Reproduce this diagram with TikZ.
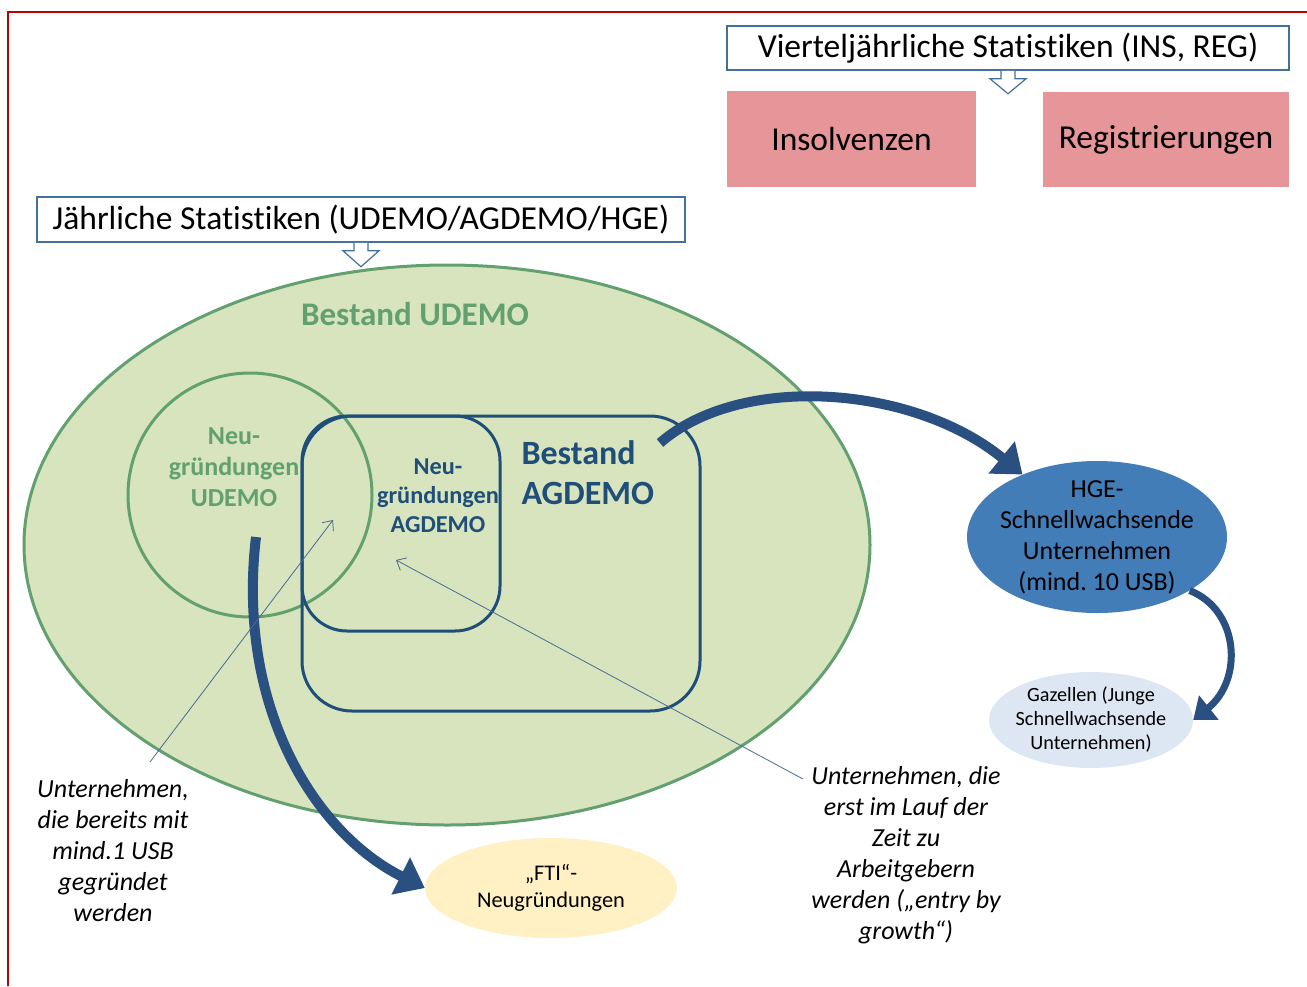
\documentclass[tikz,border=0pt]{standalone}
\usepackage{fontspec}
\setmainfont{Carlito}[Ligatures={NoCommon,NoContextual}, Contextuals=NoAlternate]
\usepackage{xcolor}
\definecolor{framered}{RGB}{192, 0, 0}
\definecolor{boxblue}{RGB}{65, 113, 156}
\definecolor{pinkred}{RGB}{230, 149, 152}
\definecolor{udfill}{RGB}{216, 228, 189}
\definecolor{udgreen}{RGB}{98, 160, 112}
\definecolor{agblue}{RGB}{31, 78, 121}
\definecolor{arrowblue}{RGB}{42, 80, 130}
\definecolor{hgeblue}{RGB}{66, 125, 184}
\definecolor{gazfill}{RGB}{221, 231, 243}
\definecolor{ftifill}{RGB}{255, 241, 196}
\usetikzlibrary{shapes.geometric,arrows.meta,positioning,calc}
\frenchspacing

\begin{document}
\begin{tikzpicture}[x=1pt, y=-1pt,
    statbox/.style={draw=boxblue, line width=1.5pt, fill=white, inner sep=0pt, font=\fontsize{33.5}{38}\selectfont},
    pinkbox/.style={fill=pinkred, inner sep=0pt, font=\fontsize{33.5}{38}\selectfont},
    hollowarrow/.style={draw=boxblue, line width=1.2pt, fill=white},
    bigarrow/.style={draw=arrowblue, line width=10pt, -{Triangle[width=40pt,length=27pt]}},
    thinarrow/.style={draw=arrowblue!85, line width=0.8pt, -{Straight Barb[length=8pt,width=14pt]}}]
    \useasboundingbox (0,0) rectangle (1307,986);

    % Frame
    \draw[framered, line width=2pt] (8,986) -- (8,12) -- (1307,12);

    % Quarterly statistics
    \node[statbox, minimum width=562, minimum height=44] (vjstat) at (1008,48) {Vierteljährliche Statistiken (INS, REG)};
    \node[pinkbox, minimum width=249, minimum height=96] (insolv) at (851.5,139) {Insolvenzen};
    \node[pinkbox, minimum width=246, minimum height=95] (regist) at (1166,139.5) {Registrierungen};
    \draw[hollowarrow] ($(vjstat.south)+(-7,0)$) -- ++(0,8) -- ++(-11,0) -- ($(vjstat.south)+(0,23)$) -- ($(vjstat.south)+(18,8)$) -- ++(-11,0) -- ++(0,-8);

    % Annual statistics
    \node[statbox, minimum width=648, minimum height=45] (jstat) at (361,219.5) {Jährliche Statistiken (UDEMO/AGDEMO/HGE)};
    \draw[hollowarrow] ($(jstat.south)+(-7,0)$) -- ++(0,8) -- ++(-11,0) -- ($(jstat.south)+(0,24)$) -- ($(jstat.south)+(18,8)$) -- ++(-11,0) -- ++(0,-8);

    % Stock of enterprises
    \node[ellipse, draw=udgreen, fill=udfill, line width=3pt, minimum width=846, minimum height=560, inner sep=0pt] (udemo) at (447,545) {};
    \node[font=\bfseries\fontsize{33}{38}\selectfont, text=udgreen] (udlabel) at (415,314) {Bestand UDEMO};
    \node[circle, draw=udgreen, line width=3pt, minimum size=244, inner sep=0pt] (neuud) at (250,495) {};
    \node[font=\bfseries\fontsize{26}{31}\selectfont, text=udgreen, align=center] (neudlabel) at (234,467) {Neu-\\gründungen\\UDEMO};
    \node[rectangle, rounded corners=50pt, draw=agblue, line width=3pt, minimum width=398, minimum height=295, inner sep=0pt] (agdemo) at (501,563.5) {};
    \node[rectangle, rounded corners=45pt, draw=agblue, line width=3pt, minimum width=198, minimum height=215, inner sep=0pt] (neuag) at (401,523.5) {};
    \node[font=\bfseries\fontsize{34}{40}\selectfont, text=agblue, align=left, anchor=west] (aglabel) at (518,473) {Bestand\\AGDEMO};
    \node[font=\bfseries\fontsize{24.3}{29}\selectfont, text=agblue, align=center] (neuaglabel) at (438,496) {Neu-\\gründungen\\AGDEMO};

    % Outer ellipses
    \node[ellipse, fill=hgeblue, minimum width=260, minimum height=152, inner sep=-6pt, align=center, font=\fontsize{26}{31}\selectfont] (hge) at (1097,537) {HGE-\\Schnellwachsende\\Unternehmen\\(mind. 10 USB)};
    \node[ellipse, fill=gazfill, minimum width=204, minimum height=96, inner sep=-4pt, align=center, font=\fontsize{20.2}{24}\selectfont] (gaz) at (1091,720) {Gazellen (Junge\\Schnellwachsende\\Unternehmen)};
    \node[ellipse, fill=ftifill, minimum width=252, minimum height=100, inner sep=0pt, align=center, font=\fontsize{22.4}{27}\selectfont] (fti) at (551,888) {„FTI“-\\Neugründungen};

    % Notes
    \node[font=\itshape\fontsize{26}{31}\selectfont, align=center] (txtusb) at (113,851) {Unternehmen,\\die bereits mit\\mind.1 USB\\gegründet\\werden};
    \node[font=\itshape\fontsize{26}{31}\selectfont, align=center] (txtgrowth) at (906,855) {Unternehmen, die\\erst im Lauf der\\Zeit zu\\Arbeitgebern\\werden („entry by\\growth“)};

    % Arrows
    \coordinate (agout) at (660,443);
    \coordinate (udout) at (256,537);
    \draw[bigarrow] (agout) .. controls +(80,-70) and +(-110,-90) .. (hge.140);
    \draw[bigarrow] (udout) .. controls +(-20,170) and +(-110,-55) .. (fti.west);
    \draw[bigarrow, line width=7pt, -{Triangle[width=30pt,length=20pt]}] (hge.-30) .. controls +(50,20) and +(50,-40) .. (gaz.east);

    \coordinate (usbtail) at (150,762);
    \coordinate (usbhead) at (333,520);
    \coordinate (growtail) at (803,779);
    \coordinate (growhead) at (396,560);
    \draw[thinarrow] (usbtail) -- (usbhead);
    \draw[thinarrow] (growtail) -- (growhead);
\end{tikzpicture}
\end{document}
